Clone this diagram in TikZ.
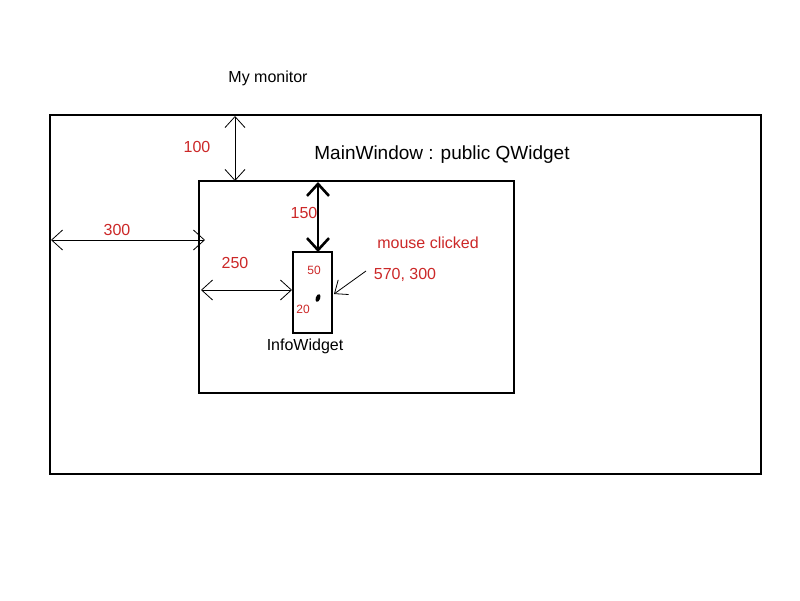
\documentclass[tikz,border=0pt]{standalone}
\usepackage{fontspec}
\setmainfont{Liberation Sans}
\usetikzlibrary{arrows.meta}
\definecolor{lbl}{RGB}{204,40,40}
\begin{document}
\begin{tikzpicture}[x=1pt,y=-1pt,
  box/.style={draw=black,line width=1.6pt,inner sep=0pt},
  dim/.style={line width=0.8pt,{Straight Barb[length=11pt,width=20pt]}-{Straight Barb[length=11pt,width=20pt]}},
  redlbl/.style={text=lbl,font=\fontsize{16}{18}\selectfont,inner sep=0pt},
  smalllbl/.style={text=lbl,font=\fontsize{12}{14}\selectfont,inner sep=0pt},
  blk/.style={text=black,inner sep=0pt}]
\useasboundingbox[fill=white] (0,0) rectangle (800,600);
% rectangles
\draw[box] (50,115) rectangle (761,474);
\draw[box] (199,181) rectangle (514,393);
\draw[box] (293,252) rectangle (332,333);
% coordinates
\coordinate (mtop) at (235,116);
\coordinate (wtop) at (235,181);
\coordinate (wtopB) at (318,182);
\coordinate (itop) at (318,252);
\coordinate (mleft) at (51,240);
\coordinate (wleft) at (205,240);
\coordinate (wleftB) at (201,290);
\coordinate (ileft) at (292,290);
\coordinate (mfrom) at (366,271);
\coordinate (clickpt) at (334,294);
% texts
\node[blk,font=\fontsize{16}{18}\selectfont] (monitor) at (268,78) {My monitor};
\node[blk,font=\fontsize{19}{22}\selectfont] (mainw) at (442,155) {MainWindow : public QWidget};
\node[redlbl] (l100) at (197,147) {100};
\node[redlbl] (l150) at (304,213) {150};
\node[redlbl] (l300) at (117,230) {300};
\node[redlbl] (l250) at (235,263) {250};
\node[redlbl] (lmc) at (428,243) {mouse clicked};
\node[redlbl] (lxy) at (405,275) {570, 300};
\node[smalllbl] (l50) at (314,270) {50};
\node[smalllbl] (l20) at (303,309) {20};
\node[blk,font=\fontsize{16}{18}\selectfont] (info) at (305,346) {InfoWidget};
\fill[black,rotate around={-20:(318,298)}] (318,298) ellipse (2.2pt and 4pt);
% dimension arrows
\draw[dim] (mtop) -- (wtop);
\draw[dim] (mleft) -- (wleft);
\draw[dim] (wleftB) -- (ileft);
\draw[line width=2.6pt,{Straight Barb[length=12pt,width=22pt]}-{Straight Barb[length=12pt,width=22pt]}] (wtopB) -- (itop);
\draw[line width=0.8pt,-{Straight Barb[length=11pt,width=18pt]}] (mfrom) -- (clickpt);
\end{tikzpicture}
\end{document}
